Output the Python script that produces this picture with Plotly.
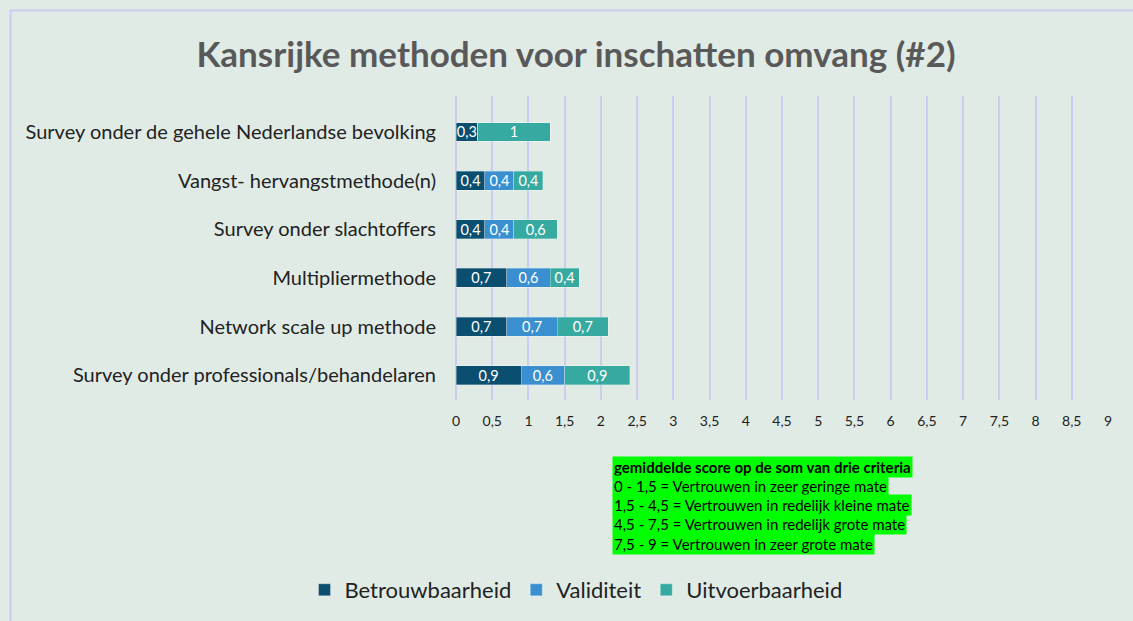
import plotly.graph_objects as go

categories = [
    "Survey onder de gehele Nederlandse bevolking",
    "Vangst- hervangstmethode(n)",
    "Survey onder slachtoffers",
    "Multipliermethode",
    "Network scale up methode",
    "Survey onder professionals/behandelaren",
]
betrouwbaarheid = [0.3, 0.4, 0.4, 0.7, 0.7, 0.9]
validiteit = [0.0, 0.4, 0.4, 0.6, 0.7, 0.6]
uitvoerbaarheid = [1.0, 0.4, 0.6, 0.4, 0.7, 0.9]

series = [
    ("Betrouwbaarheid", betrouwbaarheid, "#0A4F70"),
    ("Validiteit", validiteit, "#3A8FD0"),
    ("Uitvoerbaarheid", uitvoerbaarheid, "#36AAA0"),
]

legend_lines = [
    "<b>gemiddelde score op de som van drie criteria</b>",
    "0 - 1,5 = Vertrouwen in zeer geringe mate",
    "1,5 - 4,5 = Vertrouwen in redelijk kleine mate",
    "4,5 - 7,5 = Vertrouwen in redelijk grote mate",
    "7,5 - 9 = Vertrouwen in zeer grote mate",
]

FONT = "Lato"
BG = "#E1EBE6"

def fmt(v):
    if v == 0:
        return ""
    return ("%g" % v).replace(".", ",")

fig = go.Figure()
for name, vals, color in series:
    fig.add_trace(go.Bar(
        y=categories, x=vals, name=name, orientation="h",
        marker=dict(color=color, line=dict(color="rgba(255,255,255,0.5)", width=0.6)),
        text=[fmt(v) for v in vals], textposition="inside",
        insidetextanchor="middle", textangle=0, constraintext="none",
        textfont=dict(color="white", size=14.5, family=FONT),
        hoverinfo="x+name",
    ))

H_PLOT_TOP = 96
H_PLOT_BOT = 400
PH = H_PLOT_BOT - H_PLOT_TOP

def py(p):
    return (H_PLOT_BOT - p) / PH

annotations = []
line_y = [466.5, 485.5, 504.5, 524, 543.5]
for txt, yy in zip(legend_lines, line_y):
    annotations.append(dict(
        text=txt, xref="paper", yref="paper",
        x=(612 - 456) / 652, y=py(yy), xanchor="left", yanchor="middle",
        showarrow=False, bgcolor="#00FF00", borderpad=1,
        font=dict(family=FONT, size=15, color="black"), align="left",
    ))

fig.update_layout(
    width=1133, height=621,
    barmode="stack", bargap=0.61,
    separators=",.",
    paper_bgcolor=BG, plot_bgcolor=BG,
    margin=dict(l=456, r=1133 - 1108, t=H_PLOT_TOP, b=621 - H_PLOT_BOT, autoexpand=False),
    title=dict(text="<b>Kansrijke methoden voor inschatten omvang (#2)</b>",
               x=576 / 1133, xanchor="center", y=1 - 55 / 621, yanchor="middle",
               yref="container",
               font=dict(family=FONT, size=35, color="#595959")),
    xaxis=dict(range=[0, 9], dtick=0.5, tick0=0, showgrid=True,
               gridcolor="#CFCBEE", gridwidth=1.6, zeroline=True,
               zerolinecolor="#CFCBEE", zerolinewidth=1.6,
               ticks="outside", ticklen=8, tickcolor=BG,
               tickfont=dict(family=FONT, size=14, color="#222222"),
               fixedrange=True),
    yaxis=dict(range=[5.51, -0.74], type="category", showgrid=False,
               ticks="outside", ticklen=15, tickcolor=BG,
               tickfont=dict(family=FONT, size=20, color="#222222")),
    legend=dict(orientation="h", x=(576 - 456) / 652, xanchor="center",
                y=py(590), yanchor="middle",
                font=dict(family=FONT, size=22, color="#222222"),
                bgcolor="rgba(0,0,0,0)", traceorder="normal",
                itemwidth=30),
    annotations=annotations,
    shapes=[dict(type="rect", xref="paper", yref="paper",
                 x0=(10.5 - 456) / 652, x1=1.2, y0=-1.5, y1=py(10.5),
                 line=dict(color="#CCCAEE", width=2), fillcolor="rgba(0,0,0,0)",
                 layer="below")],
)

fig.write_html(
    "out.html",
    config={"displayModeBar": False},
    post_script="document.body.style.margin='0';document.body.style.overflow='hidden';",
)
